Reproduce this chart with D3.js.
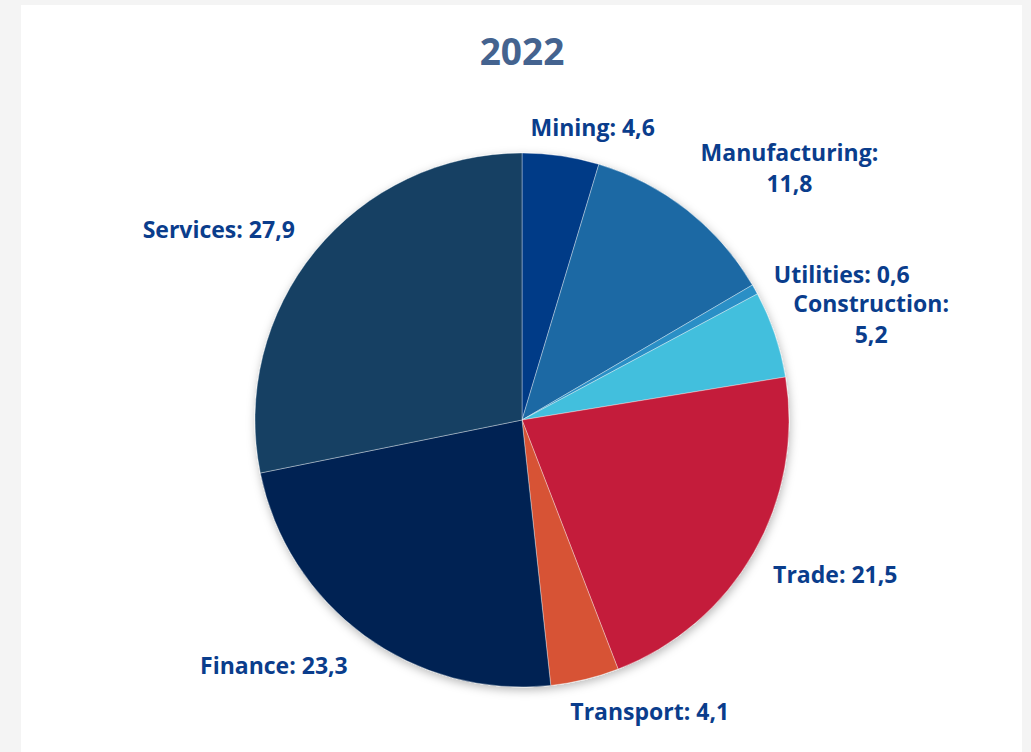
<!DOCTYPE html>
<html>
<head>
<meta charset="utf-8">
<script src="https://cdn.jsdelivr.net/npm/d3@7"></script>
<style>
  body { margin: 0; background: #f4f4f4; }
  svg { display: block; }
</style>
</head>
<body>
<div id="chart"></div>
<script>
// data
const title = "2022"
const sectors = ["Mining", "Manufacturing", "Utilities", "Construction", "Trade", "Transport", "Finance", "Services"]
const shares = [4.6, 11.8, 0.6, 5.2, 21.5, 4.1, 23.3, 27.9]
const colors = ["#033b87", "#1b69a4", "#2b8fc6", "#43bfdd", "#c41e3a", "#d75235", "#012453", "#123f64"]

// label layout: line breaks and small nudges from the default outside spot
const labelLines = [
  ["Mining: 4,6"],
  ["Manufacturing:", "11,8"],
  ["Utilities: 0,6"],
  ["Construction:", "5,2"],
  ["Trade: 21,5"],
  ["Transport: 4,1"],
  ["Finance: 23,3"],
  ["Services: 27,9"]
]
const labelNudge = [[27, 5], [82, -16], [58, 2], [65, -4], [53, 6], [57, 0], [-71, 4], [-71, 0]]

const width = 1031
const height = 752
const cx = 522
const cy = 420
const radius = 267
const labelRadius = 300

const svg = d3.select("#chart")
  .append("svg")
  .attr("width", width)
  .attr("height", height)

// white panel
svg.append("rect")
  .attr("x", 21)
  .attr("y", 5)
  .attr("width", 1001)
  .attr("height", height)
  .attr("fill", "#fff")

const defs = svg.append("defs")
defs.append("filter")
  .attr("id", "shadow")
  .attr("x", "-10%").attr("y", "-10%")
  .attr("width", "120%").attr("height", "120%")
  .append("feDropShadow")
  .attr("dx", 1)
  .attr("dy", 3)
  .attr("stdDeviation", 5)
  .attr("flood-color", "#000")
  .attr("flood-opacity", 0.28)

svg.append("text")
  .attr("x", cx)
  .attr("y", 65)
  .attr("text-anchor", "middle")
  .style("font-family", "'Open Sans', sans-serif")
  .style("font-weight", 700)
  .style("font-size", "37px")
  .style("fill", "#44638f")
  .text(title)

const data = sectors.map((s, i) => ({ sector: s, value: shares[i], i }))

const pie = d3.pie()
  .sort(null)
  .value(d => d.value)

const arcs = pie(data)

const arc = d3.arc()
  .innerRadius(0)
  .outerRadius(radius)

const g = svg.append("g")
  .attr("transform", `translate(${cx},${cy})`)

const slices = g.append("g")
  .attr("filter", "url(#shadow)")

slices.selectAll("path")
  .data(arcs)
  .enter().append("path")
  .attr("d", arc)
  .style("fill", d => colors[d.data.i])
  .style("stroke", "rgba(255,255,255,0.45)")
  .style("stroke-width", 0.8)

// labels
const lineHeight = 31
const labels = g.selectAll(".label")
  .data(arcs)
  .enter().append("text")
  .attr("class", "label")
  .attr("text-anchor", "middle")
  .style("font-family", "'Open Sans', sans-serif")
  .style("font-weight", 700)
  .style("font-size", "23px")
  .style("fill", "#0a3d8c")
  .each(function (d) {
    const mid = (d.startAngle + d.endAngle) / 2
    const nudge = labelNudge[d.data.i]
    const x = Math.sin(mid) * labelRadius + nudge[0]
    const y = -Math.cos(mid) * labelRadius + nudge[1]
    const lines = labelLines[d.data.i]
    const t = d3.select(this)
    lines.forEach((line, k) => {
      t.append("tspan")
        .attr("x", x)
        .attr("y", y + (k - (lines.length - 1) / 2) * lineHeight)
        .attr("dy", "0.35em")
        .text(line)
    })
  })
</script>
</body>
</html>
